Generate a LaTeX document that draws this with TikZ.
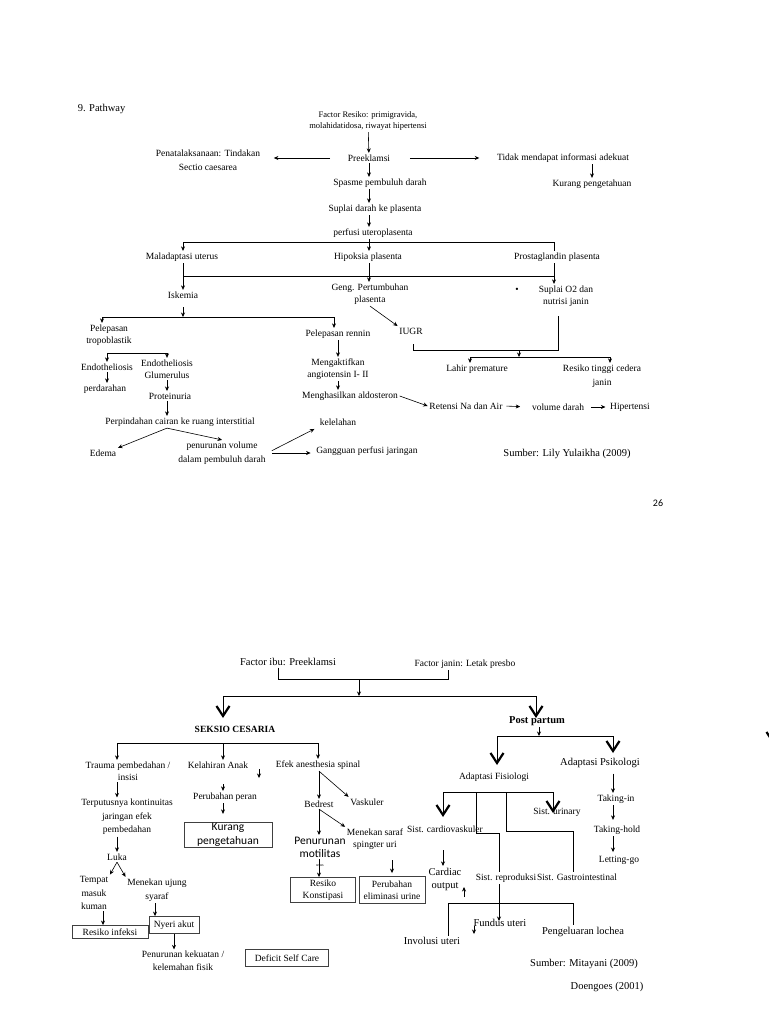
\documentclass[tikz,border=0pt]{standalone}
\usepackage{fontspec}
\setmainfont{Liberation Serif}
\newfontfamily\calib{Carlito}
\usetikzlibrary{arrows.meta,positioning,calc}

\tikzset{
  txt/.style={font=\fontsize{9.5}{12}\selectfont, align=center, inner sep=1.5pt},
  txts/.style={font=\fontsize{8.5}{11}\selectfont, align=center, inner sep=1.5pt},
  txtl/.style={font=\fontsize{10.5}{13}\selectfont, align=center, inner sep=1.5pt},
  sans/.style={font=\calib\fontsize{11.5}{14}\selectfont, align=center, inner sep=1.5pt},
  kotak/.style={draw=black!75, line width=0.9pt, inner sep=1pt},
  arr/.style={-{Stealth[length=4.5pt,width=4pt]}},
  bigv/.style={-{Straight Barb[length=10pt,width=13pt,line width=2.2pt]}},
}

\begin{document}
\begin{tikzpicture}[x=1pt, y=-1pt, line width=0.6pt]
\useasboundingbox[fill=white] (0,0) rectangle (768,1024);

% ---------- halaman atas ----------
\node[txtl, anchor=west] (judul) at (76,109) {9. Pathway};
\node[txts] (risiko) at (368,121) {Factor Resiko: primigravida,\\molahidatidosa, riwayat hipertensi};
\node[txt] (pre) at (369,158) {Preeklamsi};
\node[txt] (pena) at (208,160) {Penatalaksanaan: Tindakan\\[2pt]Sectio caesarea};
\node[txt] (tidak) at (563,158) {Tidak mendapat informasi adekuat};
\node[txt] (kurang) at (592,184) {Kurang pengetahuan};
\node[txt] (spasme) at (380,183) {Spasme pembuluh darah};
\node[txt] (suplai) at (375,209) {Suplai darah ke plasenta};
\node[txt] (perfusi) at (373,233) {perfusi uteroplasenta};
\node[txt] (mal) at (182,257) {Maladaptasi uterus};
\node[txt] (hip) at (368,257) {Hipoksia plasenta};
\node[txt] (prost) at (557,257) {Prostaglandin plasenta};
\node[txt] (isk) at (183,295) {Iskemia};
\node[txt] (geng) at (370,294) {Geng. Pertumbuhan\\plasenta};
\node[txt] (titik) at (517,290) {•};
\node[txt] (o2) at (566,296) {Suplai O2 dan\\nutrisi janin};
\node[txt] (iugr) at (411,331) {IUGR};
\node[txt] (lahir) at (477,369) {Lahir premature};
\node[txt] (cedera) at (602,376) {Resiko tinggi cedera\\[2pt]janin};
\node[txt] (tropo) at (109,335) {Pelepasan\\tropoblastik};
\node[txt] (rennin) at (338,334) {Pelepasan rennin};
\node[txt] (endo) at (107,367) {Endotheliosis};
\node[txt] (endog) at (167,369) {Endotheliosis\\Glumerulus};
\node[txt] (perd) at (105,389) {perdarahan};
\node[txt] (prot) at (170,396) {Proteinuria};
\node[txt] (perp) at (180,422) {Perpindahan cairan ke ruang interstitial};
\node[txt] (edema) at (103,453) {Edema};
\node[txt] (penvol) at (222,453) {penurunan volume\\[2pt]dalam pembuluh darah};
\node[txt] (lelah) at (338,422) {kelelahan};
\node[txt] (gang) at (367,451) {Gangguan perfusi jaringan};
\node[txt] (angio) at (338,369) {Mengaktifkan\\angiotensin I- II};
\node[txt] (aldo) at (350,396) {Menghasilkan aldosteron};
\node[txt] (reten) at (466,406) {Retensi Na dan Air};
\node[txt] (vold) at (558,407) {volume darah};
\node[txt] (hiper) at (630,407) {Hipertensi};
\node[txtl] (sumber1) at (567,454) {Sumber: Lily Yulaikha (2009)};
\node[font=\calib\fontsize{10}{12}\selectfont] (hal) at (658,503) {26};

\coordinate (b1L) at (183,242);
\coordinate (b1R) at (554,242);
\coordinate (b2L) at (183,276);
\coordinate (b2R) at (554,276);
\coordinate (brR) at (558,350);
\coordinate (brL) at (413,350);
\coordinate (brT) at (413,344);
\coordinate (brM) at (519,350);
\coordinate (b3M) at (519,357);
\coordinate (b3L) at (470,357);
\coordinate (b3R) at (610,357);
\coordinate (b4M) at (183,317);
\coordinate (b4L) at (102,317);
\coordinate (b4R) at (334,317);
\coordinate (b5L) at (107,353);
\coordinate (b5R) at (167,353);

\draw[arr] (risiko) -- (pre);
\draw[arr, shorten <=16pt, shorten >=12pt] (pre.west) -- (pena.east |- pre.west);
\draw[arr, shorten <=18pt, shorten >=16pt] (pre.east) -- (tidak.west);
\draw[arr] (tidak.south -| kurang) -- (kurang);
\draw[arr] (pre) -- (spasme.north -| pre);
\draw[arr] (spasme.south -| pre) -- (suplai.north -| pre);
\draw[arr] (suplai.south -| pre) -- (perfusi.north -| pre);
\draw (perfusi.south -| pre) -- (pre |- b1L);
\draw (b1L) -- (b1R);
\draw[arr] (b1L) -- (mal.north -| b1L);
\draw[arr] (pre |- b1L) -- (hip.north -| pre);
\draw (b1R) -- (prost.north -| b1R);
\draw (mal.south -| b2L) -- (b2L) -- (b2R) -- (prost.south -| b2R);
\draw[arr] (b2L) -- (isk.north -| b2L);
\draw[arr] (b2R) -- (o2.north -| b2R);
\draw[arr] (hip.south -| pre) -- (geng.north -| pre);
\draw[arr] (geng.south) -- (iugr.north west);
\draw[shorten <=8pt] (o2.south -| brR) -- (brR) -- (brL) -- (brT);
\draw[arr] (brM) -- (b3M);
\draw (b3L) -- (b3R);
\draw[arr] (b3L) -- (lahir.north -| b3L);
\draw[arr] (b3R) -- (cedera.north -| b3R);
\draw[arr, shorten <=7pt] (isk.south) -- (b4M);
\draw (b4L) -- (b4R);
\draw[arr] (b4L) -- (tropo.north -| b4L);
\draw[arr] (b4R) -- (rennin.north -| b4R);
\draw (b5L) -- (b5R);
\draw[arr] (b5L) -- (endo.north -| b5L);
\draw[arr] (b5R) -- (endog.north -| b5R);
\draw[arr] (endo) -- (perd.north -| endo);
\draw[arr] (endog.south) -- (prot.north -| endog);
\draw[arr] (prot.south -| endog) -- (perp.north -| endog);
\draw[arr] (perp.south -| endog) -- (edema.north east);
\draw[arr] (perp.south -| endog) -- (penvol.north);
\draw[arr, shorten <=5pt, shorten >=4pt] (penvol.east) -- (lelah.south west);
\draw[arr, shorten <=5pt, shorten >=4pt] (penvol.east) -- (gang.west |- penvol.east);
\draw[arr] (rennin) -- (angio);
\draw[arr] (angio.south) -- (aldo.north -| angio);
\draw[arr] (aldo.east) -- (reten.west);
\draw[arr, shorten <=2pt, shorten >=10pt] (reten.east) -- (vold.west);
\draw[arr, shorten <=5pt, shorten >=3pt] (vold.east) -- (hiper.west);

% ---------- halaman bawah ----------
\node[txtl] (ibu) at (288,662) {Factor ibu: Preeklamsi};
\node[txt] (janin) at (465,664) {Factor janin: Letak presbo};
\node[txt, font=\bfseries\fontsize{9.5}{12}\selectfont] (seksio) at (235,729) {SEKSIO CESARIA};
\node[txt, font=\bfseries\fontsize{10.5}{12}\selectfont] (post) at (537,721) {Post partum};
\node[txt] (trauma) at (128,771) {Trauma pembedahan /\\insisi};
\node[txt] (kelah) at (218,765) {Kelahiran Anak};
\node[txt] (efek) at (318,765) {Efek anesthesia spinal};
\node[txt] (peran) at (225,797) {Perubahan peran};
\node[sans, kotak, minimum width=88pt, minimum height=25pt] (kurang2) at (228,835) {Kurang\\pengetahuan};
\node[txt, font=\fontsize{9.5}{13.5}\selectfont] (putus) at (127,817) {Terputusnya kontinuitas\\jaringan efek\\pembedahan};
\node[txt] (luka) at (117,857) {Luka};
\node[txt, font=\fontsize{9.5}{13.5}\selectfont] (tempat) at (94,893) {Tempat\\masuk\\kuman};
\node[txt, font=\fontsize{9.5}{14}\selectfont] (tekan1) at (157,890) {Menekan ujung\\syaraf};
\node[txt, kotak, minimum width=76pt, minimum height=13pt] (infeksi) at (110,932) {Resiko infeksi};
\node[txt, kotak, minimum width=50pt, minimum height=17pt] (nyeri) at (174,925) {Nyeri akut};
\node[txt, font=\fontsize{9.5}{13}\selectfont] (lemah) at (183,961) {Penurunan kekuatan /\\kelemahan fisik};
\node[txt, kotak, minimum width=83pt, minimum height=17pt] (deficit) at (287,958) {Deficit Self Care};
\node[txt] (bedrest) at (319,804) {Bedrest};
\node[txt] (vask) at (367,802) {Vaskuler};
\node[sans, font=\calib\fontsize{11.5}{13}\selectfont] (motil) at (320,847) {Penurunan\\motilitas};
\node[font=\fontsize{4}{4}\selectfont, inner sep=0pt] (usus) at (320,866) {usus};
\node[txt] (tekan2) at (375,839) {Menekan saraf\\spingter uri};
\node[txt, kotak, minimum width=65pt, minimum height=25pt] (konst) at (323,890) {Resiko\\Konstipasi};
\node[txt, kotak, minimum width=66pt, minimum height=27pt] (elim) at (392,890) {Perubahan\\eliminasi urine};
\node[txtl] (psiko) at (600,763) {Adaptasi Psikologi};
\node[txt] (fisio) at (494,777) {Adaptasi Fisiologi};
\node[txt] (tin) at (616,799) {Taking-in};
\node[txt] (thold) at (617,830) {Taking-hold};
\node[txt] (lgo) at (619,860) {Letting-go};
\node[txt] (cardio) at (445,829) {Sist. cardiovaskuler};
\node[txt] (urin) at (557,812) {Sist. urinary};
\node[txt] (repro) at (506,878) {Sist. reproduksi};
\node[txt] (gastro) at (577,877) {Sist. Gastrointestinal};
\node[txtl] (cardiac) at (445,879) {Cardiac\\output};
\node[txtl] (fundus) at (500,923) {Fundus uteri};
\node[txtl] (involusi) at (432,941) {Involusi uteri};
\node[txtl] (lochea) at (583,932) {Pengeluaran lochea};
\node[txtl] (sumber2) at (584,964) {Sumber: Mitayani (2009)};
\node[txtl] (doen) at (607,987) {Doengoes (2001)};

\coordinate (fL) at (278,679);
\coordinate (fR) at (448,679);
\coordinate (fM) at (359,679);
\coordinate (gL) at (223,696);
\coordinate (gM) at (359,696);
\coordinate (gR) at (536,696);
\coordinate (vSek) at (223,718);
\coordinate (vPost) at (536,718);
\coordinate (hL) at (117,743);
\coordinate (hM) at (223,743);
\coordinate (hR) at (318,743);
\coordinate (kaT) at (259,769);
\coordinate (kaB) at (259,778);
\coordinate (iL) at (497,736);
\coordinate (iM) at (539,736);
\coordinate (iR) at (613,736);
\coordinate (vFis) at (497,765);
\coordinate (vPsi) at (613,753);
\coordinate (jL) at (443,792);
\coordinate (j2) at (476,792);
\coordinate (j3) at (506,792);
\coordinate (jR) at (553,792);
\coordinate (vCar) at (443,817);
\coordinate (vUri) at (553,813);
\coordinate (k2a) at (476,833);
\coordinate (k2b) at (499,833);
\coordinate (k3a) at (506,831);
\coordinate (k3b) at (573,831);
\coordinate (upB) at (464,897);
\coordinate (upT) at (464,887);
\coordinate (lL) at (448,903);
\coordinate (lR) at (573,903);
\coordinate (lM) at (499,903);
\coordinate (fuT) at (499,921);
\coordinate (smT) at (474,926);
\coordinate (smB) at (474,934);
\coordinate (tepiT) at (773,722);
\coordinate (tepiB) at (773,744);

\draw (ibu.south -| fL) -- (fL) -- (fR) -- (janin.south -| fR);
\draw[arr] (fM) -- (gM);
\draw (gL) -- (gR);
\draw[bigv] (gL) -- (vSek);
\draw[bigv] (gR) -- (vPost);
\draw (hL) -- (hR);
\draw[arr] (hL) -- (trauma.north -| hL);
\draw[arr] (hM) -- (kelah.north -| hM);
\draw[arr] (hR) -- (efek.north -| hR);
\draw[arr] (kaT) -- (kaB);
\draw[arr, shorten <=14pt] (kelah.south -| hM) -- (peran.north -| hM);
\draw[arr, shorten >=8pt] (peran.south -| hM) -- (kurang2.north -| hM);
\draw[arr] (trauma.south -| hL) -- (putus.north -| hL);
\draw[arr] (putus.south -| luka) -- (luka.north);
\draw[arr] (luka.south) -- (tempat.north east);
\draw[arr] (luka.south) -- (tekan1.north west);
\draw[arr] ([xshift=9pt]tempat.south) -- ([xshift=9pt]tempat.south |- infeksi.north);
\draw[arr] ([xshift=-2pt]tekan1.south) -- ([xshift=-2pt]tekan1.south |- nyeri.north);
\draw[arr] (nyeri.south) -- (lemah.north -| nyeri.south);
\draw[arr] (efek.south -| bedrest) -- (bedrest.north);
\draw[arr] (efek.south -| bedrest) -- (vask.north west);
\draw[arr] (bedrest.south) -- (motil.north -| bedrest);
\draw[arr] (bedrest.south) -- (tekan2.north west);
\draw[arr] (motil.south -| bedrest) -- (konst.north -| bedrest);
\draw[arr, shorten <=9pt, shorten >=3pt] (tekan2.south -| elim.north) -- (elim.north);
\draw[arr] (post.south -| iM) -- (iM);
\draw (iL) -- (iR);
\draw[bigv] (iL) -- (vFis);
\draw[bigv] (iR) -- (vPsi);
\draw[arr, shorten <=4pt] (psiko.south -| iR) -- (tin.north -| iR);
\draw[arr, shorten >=4pt] (tin.south -| iR) -- (thold.north -| iR);
\draw[arr, shorten >=2pt] (thold.south -| iR) -- (lgo.north -| iR);
\draw (jL) -- (jR);
\draw[bigv] (jL) -- (vCar);
\draw[bigv] (jR) -- (vUri);
\draw (j2) -- (k2a) -- (k2b) -- (repro.north -| k2b);
\draw (j3) -- (k3a) -- (k3b) -- (gastro.north -| k3b);
\draw[arr, shorten <=16pt] (cardio.south -| jL) -- (cardiac.north -| jL);
\draw[arr] (upB) -- (upT);
\draw[arr] (repro.south -| lM) -- (fuT);
\draw (lL) -- (lR);
\draw (lL) -- (involusi.north -| lL);
\draw (lR) -- (lochea.north -| lR);
\draw[arr] (smT) -- (smB);
\draw[bigv] (tepiT) -- (tepiB);
\end{tikzpicture}
\end{document}
